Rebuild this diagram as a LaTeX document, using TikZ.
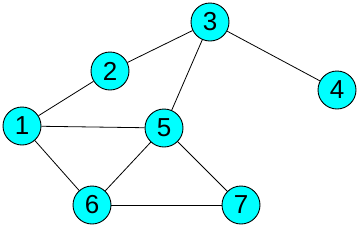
\documentclass[tikz,border=0pt]{standalone}
\usepackage{fontspec}
\setmainfont{Liberation Sans}
\definecolor{acqua}{RGB}{0,255,255}
\begin{document}
\begin{tikzpicture}[x=1pt, y=-1pt,
    vertice/.style={circle, draw=black, fill=acqua, line width=0.9pt,
        minimum size=38pt, inner sep=0pt, font=\fontsize{26}{26}\selectfont},
    arco/.style={black, line width=0.8pt}]

    % Area del disegno
    \useasboundingbox (0,0) rectangle (359,226);

    % --- VERTICI ---
    \node[vertice] (n1) at (22, 126) {1};
    \node[vertice] (n2) at (110, 71) {2};
    \node[vertice] (n3) at (210, 22) {3};
    \node[vertice] (n4) at (337, 90) {4};
    \node[vertice] (n5) at (164, 128) {5};
    \node[vertice] (n6) at (92, 205) {6};
    \node[vertice] (n7) at (241, 205) {7};

    % --- ARCHI ---
    \foreach \a/\b in {n1/n2, n2/n3, n3/n4, n3/n5, n1/n5, n1/n6, n5/n6, n5/n7, n6/n7} {
        \draw[arco] (\a) -- (\b);
    }

\end{tikzpicture}
\end{document}
